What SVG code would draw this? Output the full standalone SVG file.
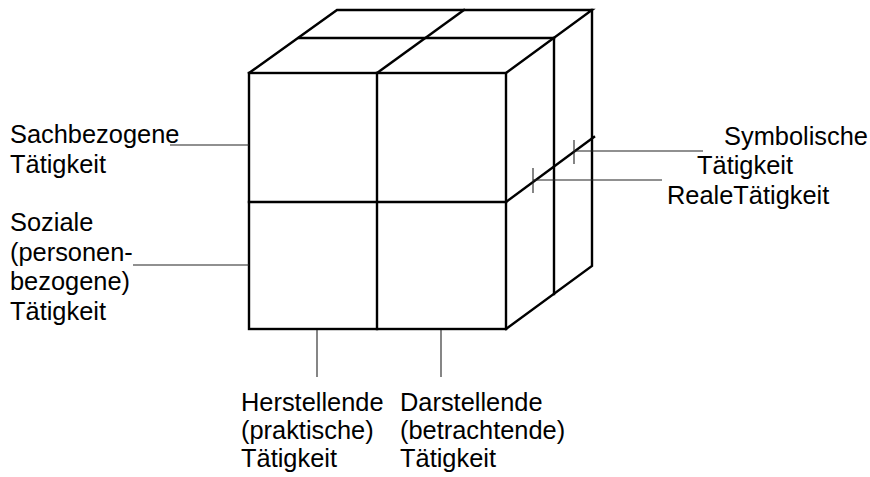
<svg xmlns="http://www.w3.org/2000/svg" width="870" height="477" viewBox="0 0 870 477">
  <style>
    .edge { fill: none; stroke: #000; stroke-width: 2.4; stroke-linecap: square; stroke-linejoin: miter; }
    .lead { fill: none; stroke: #222; stroke-width: 1.1; }
    .lbl { font-family: "Liberation Sans", Arial, sans-serif; font-size: 25.4px; fill: #000; }
  </style>
  <rect width="870" height="477" fill="#fff"/>

  <!-- 2x2x2 cube -->
  <g id="cube">
    <!-- front face -->
    <rect class="edge" x="249" y="73" width="257" height="256"/>
    <line class="edge" x1="377" y1="73" x2="377" y2="329"/>
    <line class="edge" x1="249" y1="202" x2="506" y2="202"/>
    <!-- top face -->
    <polyline class="edge" points="249,73 337,10 592,10 506,73"/>
    <line class="edge" x1="299" y1="38" x2="554" y2="38"/>
    <line class="edge" x1="377" y1="73" x2="464" y2="10"/>
    <!-- right face -->
    <polyline class="edge" points="592,10 592,266 506,329"/>
    <polyline class="edge" points="554,38 554,294"/>
    <line class="edge" x1="506" y1="202" x2="594" y2="137"/>
  </g>

  <!-- leader lines and tick marks -->
  <g id="connectors">
    <line class="lead" x1="170" y1="145" x2="249" y2="145"/>
    <line class="lead" x1="133" y1="265" x2="249" y2="265"/>
    <line class="lead" x1="317" y1="330" x2="317" y2="377"/>
    <line class="lead" x1="441" y1="330" x2="441" y2="377"/>
    <line class="lead" x1="574" y1="151" x2="703" y2="151"/>
    <line class="lead" x1="533" y1="180" x2="662" y2="180"/>
    <line class="lead" x1="574" y1="140" x2="574" y2="164"/>
    <line class="lead" x1="533" y1="168" x2="533" y2="193"/>
  </g>

  <g id="sachbezogen">
    <text class="lbl" x="10" y="143">Sachbezogene</text>
    <text class="lbl" x="10" y="173">Tätigkeit</text>
  </g>
  <g id="sozial">
    <text class="lbl" x="10" y="231">Soziale</text>
    <text class="lbl" x="10" y="260.5">(personen-</text>
    <text class="lbl" x="10" y="290">bezogene)</text>
    <text class="lbl" x="10" y="320">Tätigkeit</text>
  </g>
  <g id="symbolisch">
    <text class="lbl" x="724" y="145">Symbolische</text>
    <text class="lbl" x="697" y="174">Tätigkeit</text>
  </g>
  <g id="real">
    <text class="lbl" x="667" y="204">RealeTätigkeit</text>
  </g>
  <g id="herstellend">
    <text class="lbl" x="241" y="410.5">Herstellende</text>
    <text class="lbl" x="241" y="438.5">(praktische)</text>
    <text class="lbl" x="241" y="466.5">Tätigkeit</text>
  </g>
  <g id="darstellend">
    <text class="lbl" x="400" y="410.5">Darstellende</text>
    <text class="lbl" x="400" y="438.5">(betrachtende)</text>
    <text class="lbl" x="400" y="466.5">Tätigkeit</text>
  </g>
</svg>
